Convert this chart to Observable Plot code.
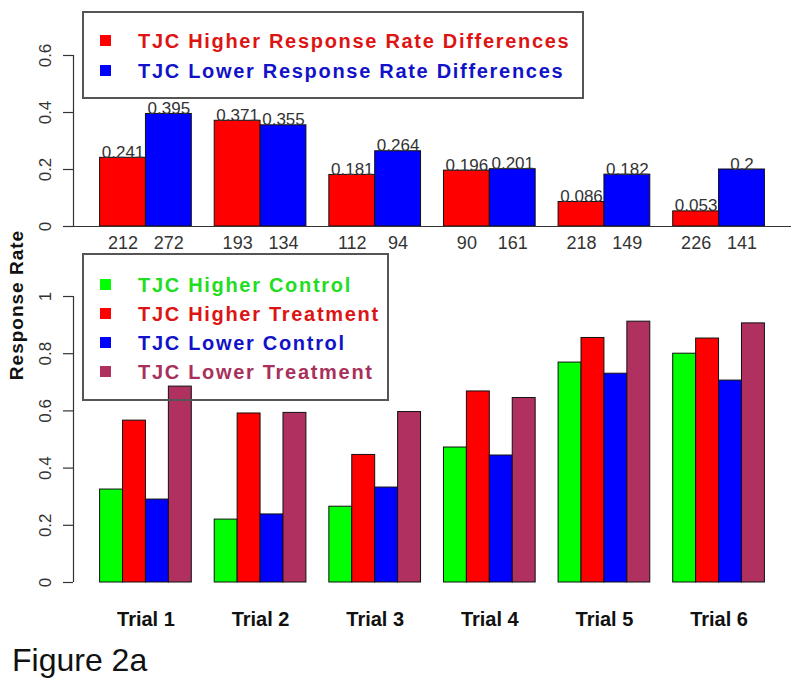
<!DOCTYPE html>
<html><head><meta charset="utf-8">
<script src="https://cdn.jsdelivr.net/npm/d3@7"></script>
<script src="https://cdn.jsdelivr.net/npm/@observablehq/plot@0.6"></script>
<style>
body{margin:0;background:#fff;}
#fig{position:relative;width:800px;height:686px;overflow:hidden;font-family:"Liberation Sans",Arial,Helvetica,sans-serif;background:#fff;}
#fig svg{position:absolute;left:0;}
.legend{position:absolute;border:2px solid #555;box-sizing:border-box;}
.row{position:absolute;height:28px;line-height:28px;font-size:20px;font-weight:bold;letter-spacing:1.7px;white-space:nowrap;}
.sq{position:absolute;width:11px;height:11px;}
#ylab{position:absolute;width:220px;height:24px;line-height:24px;text-align:center;font-size:19px;font-weight:bold;letter-spacing:1px;color:#111;transform:rotate(-90deg);}
#cap{position:absolute;left:12px;font-size:32px;line-height:32px;color:#111;}
</style></head><body><div id="fig"></div>
<script>
// ---- data ----
const trials = ["Trial 1", "Trial 2", "Trial 3", "Trial 4", "Trial 5", "Trial 6"];
const higherDiff = [0.241, 0.371, 0.181, 0.196, 0.086, 0.053];
const lowerDiff = [0.395, 0.355, 0.264, 0.201, 0.182, 0.2];
const higherN = [212, 193, 112, 90, 218, 226];
const lowerN = [272, 134, 94, 161, 149, 141];
const higherControl = [0.325, 0.220, 0.265, 0.472, 0.769, 0.800];
const higherTreatment = [0.566, 0.591, 0.446, 0.668, 0.855, 0.853];
const lowerControl = [0.290, 0.238, 0.332, 0.444, 0.730, 0.706];
const lowerTreatment = [0.685, 0.593, 0.596, 0.645, 0.912, 0.906];
const diffSeries = ["TJC Higher Response Rate Differences", "TJC Lower Response Rate Differences"];
const rateSeries = ["TJC Higher Control", "TJC Higher Treatment", "TJC Lower Control", "TJC Lower Treatment"];
const topTicks = [0, 0.2, 0.4, 0.6];
const bottomTicks = [0, 0.2, 0.4, 0.6, 0.8, 1];
const caption = "Figure 2a";
const yLabel = "Response Rate";

// ---- styles ----
const diffColors = ["#ff0000", "#0000ff"];
const diffText = ["#dd1414", "#1212c8"];
const rateColors = ["#00ff00", "#ff0000", "#0000ff", "#b03060"];
const rateText = ["#22dd22", "#dd1414", "#1212c8", "#a8305c"];

// group layout in bar units (R barplot style: gap 1, 4 unit-wide slots per group)
const GROUP = 5, GAP = 1;
const xDomain = [-0.16, 31.16];
const centers = trials.map((t, i) => i * GROUP + GAP + 2);

function topData(values, counts, s) {
  return values.map((v, i) => {
    const x1 = i * GROUP + GAP + 2 * s;
    return {trial: trials[i], value: v, n: counts[i], x1, x2: x1 + 2, xc: x1 + 1};
  });
}
function bottomData(values, s) {
  return values.map((v, i) => {
    const x1 = i * GROUP + GAP + s;
    return {trial: trials[i], value: v, x1, x2: x1 + 1};
  });
}

const font = "'Liberation Sans', Arial, Helvetica, sans-serif";
const fig = document.getElementById("fig");

// ---- top panel ----
const tops = [topData(higherDiff, higherN, 0), topData(lowerDiff, lowerN, 1)];
const topPlot = Plot.plot({
  width: 800, height: 262,
  marginLeft: 73, marginRight: 9, marginTop: 55, marginBottom: 36,
  x: {domain: xDomain, axis: null, label: null},
  y: {domain: [0, 0.6], label: null},
  style: {fontFamily: font, color: "#333", background: "transparent"},
  marks: [
    ...tops.map((d, s) => Plot.rect(d, {x1: "x1", x2: "x2", y1: 0, y2: "value", fill: diffColors[s], stroke: "#111", strokeWidth: 1})),
    Plot.ruleY([0], {stroke: "#333", strokeWidth: 1.2}),
    Plot.ruleX([xDomain[0]], {y1: 0, y2: 0.6, stroke: "#333", strokeWidth: 1.2}),
    Plot.axisY({ticks: topTicks, label: null, tickFormat: d => String(d), tickSize: 10, tickPadding: 13, tickRotate: -90, textAnchor: "middle", lineAnchor: "bottom", fontSize: 17, strokeWidth: 1.2}),
    ...tops.map(d => Plot.text(d, {x: "xc", y: "value", text: d => String(d.value), lineAnchor: "bottom", fontSize: 17, fill: "#333"})),
    ...tops.map(d => Plot.text(d, {x: "xc", y: 0, text: d => String(d.n), lineAnchor: "top", dy: 10, fontSize: 18, fill: "#333"}))
  ]
});
topPlot.style.top = "0px";
fig.appendChild(topPlot);

// ---- bottom panel ----
const bottoms = [higherControl, higherTreatment, lowerControl, lowerTreatment].map((v, s) => bottomData(v, s));
const bottomPlot = Plot.plot({
  width: 800, height: 424,
  marginLeft: 73, marginRight: 9, marginTop: 34, marginBottom: 104,
  x: {domain: xDomain, label: null},
  y: {domain: [0, 1], label: null},
  style: {fontFamily: font, color: "#333", background: "transparent"},
  marks: [
    ...bottoms.map((d, s) => Plot.rect(d, {x1: "x1", x2: "x2", y1: 0, y2: "value", fill: rateColors[s], stroke: "#111", strokeWidth: 1})),
    Plot.ruleX([xDomain[0]], {y1: 0, y2: 1, stroke: "#333", strokeWidth: 1.2}),
    Plot.axisY({ticks: bottomTicks, label: null, tickFormat: d => String(d), tickSize: 10, tickPadding: 13, tickRotate: -90, textAnchor: "middle", lineAnchor: "bottom", fontSize: 17, strokeWidth: 1.2}),
    Plot.axisX({ticks: centers, label: null, tickFormat: d => trials[Math.round((d - GAP - 2) / GROUP)], tickSize: 0, tickPadding: 29, fontSize: 20, fontWeight: "bold", fill: "#111"})
  ]
});
bottomPlot.style.top = "262px";
fig.appendChild(bottomPlot);

// ---- legends ----
function legend(box, names, colors, textColors, rowCenters) {
  const lg = document.createElement("div");
  lg.className = "legend";
  Object.assign(lg.style, {left: box[0] + "px", top: box[1] + "px", width: (box[2] - box[0]) + "px", height: (box[3] - box[1]) + "px"});
  fig.appendChild(lg);
  names.forEach((name, i) => {
    const sq = document.createElement("div");
    sq.className = "sq";
    Object.assign(sq.style, {left: "100px", top: (rowCenters[i] - 6) + "px", background: colors[i]});
    fig.appendChild(sq);
    const row = document.createElement("div");
    row.className = "row";
    row.textContent = name;
    Object.assign(row.style, {left: "138px", top: (rowCenters[i] - 14) + "px", color: textColors[i]});
    fig.appendChild(row);
  });
}
legend([82, 11, 584, 99], diffSeries, diffColors, diffText, [41, 71]);
legend([82, 253, 389, 401], rateSeries, rateColors, rateText, [285, 314, 343, 372]);

// ---- y label & caption ----
const yl = document.createElement("div");
yl.id = "ylab";
yl.textContent = yLabel;
yl.style.left = (17 - 110) + "px";
yl.style.top = (305 - 12) + "px";
fig.appendChild(yl);

const cap = document.createElement("div");
cap.id = "cap";
cap.textContent = caption;
cap.style.top = "644px";
fig.appendChild(cap);
</script></body></html>
